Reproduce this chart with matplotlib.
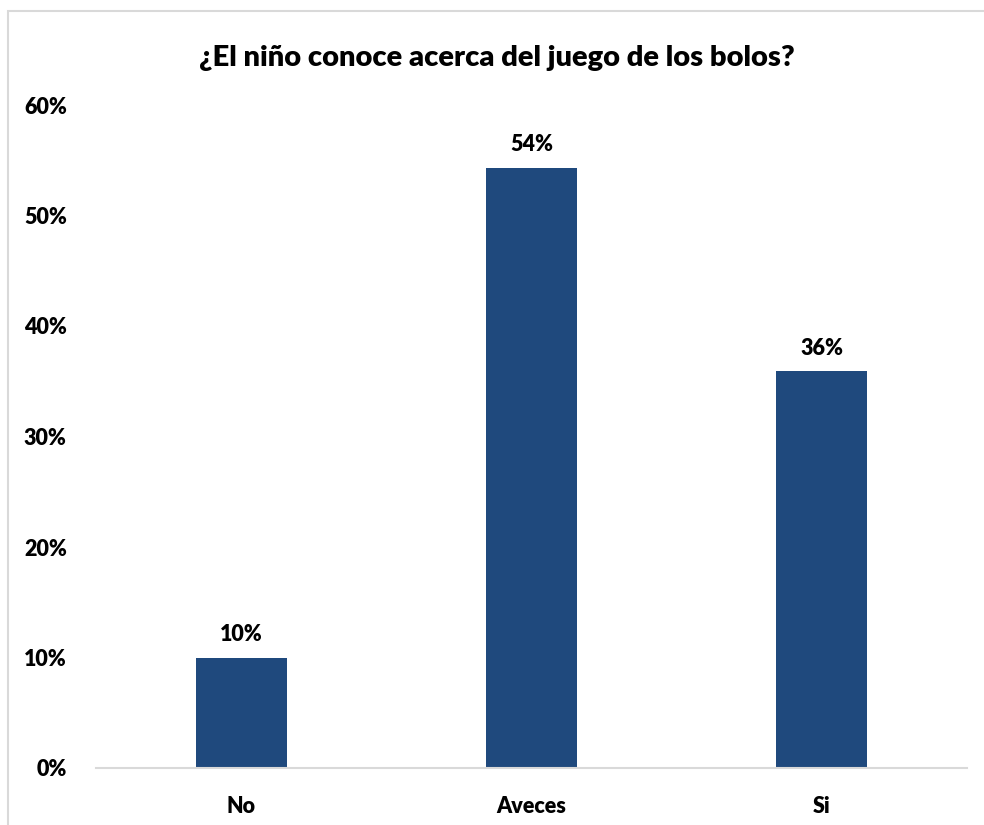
import matplotlib.pyplot as plt
from matplotlib.patches import Rectangle

# data
categories = ["No", "Aveces", "Si"]
percentages = [10.0, 54.3, 35.9]
title = "¿El niño conoce acerca del juego de los bolos?"
yticks = [0, 10, 20, 30, 40, 50, 60]

plt.rcParams['font.family'] = ['Lato', 'DejaVu Sans']
plt.rcParams['font.weight'] = 'heavy'

fig = plt.figure(figsize=(9.84, 8.25), dpi=100)
ax = fig.add_axes([96 / 984, 1 - 768 / 825, 871 / 984, (768 - 105) / 825])

# outer chart border (light gray, runs off right and bottom edges)
fig.patches.append(Rectangle((8 / 984, -0.05), 1.0, 1 - 11 / 825 + 0.05,
                             transform=fig.transFigure, fill=False,
                             edgecolor='#D9D9D9', linewidth=1.5))

x = range(len(categories))
bars = ax.bar(x, percentages, width=0.314, color='#1F497D')

for b, v in zip(bars, percentages):
    ax.annotate(f"{v:.0f}%", (b.get_x() + b.get_width() / 2, v),
                xytext=(0, 9), textcoords='offset points',
                ha='center', va='bottom', fontsize=15.5, fontweight='heavy')

ax.set_xlim(-0.5, len(categories) - 0.5)
ax.set_ylim(0, 60)
ax.set_yticks(yticks)
ax.set_yticklabels([f"{t}%" for t in yticks])
ax.set_xticks(list(x))
ax.set_xticklabels(categories)
ax.tick_params(axis='y', length=0, pad=21, labelsize=15.5)
ax.tick_params(axis='x', length=0, pad=20, labelsize=15.5)

for s in ['top', 'right', 'left']:
    ax.spines[s].set_visible(False)
ax.spines['bottom'].set_color('#D9D9D9')
ax.spines['bottom'].set_linewidth(1.5)

fig.text(497 / 984, 1 - 58 / 825, title, ha='center', va='center',
         fontsize=21, fontweight='heavy')

fig.savefig('out.png', dpi=100)
